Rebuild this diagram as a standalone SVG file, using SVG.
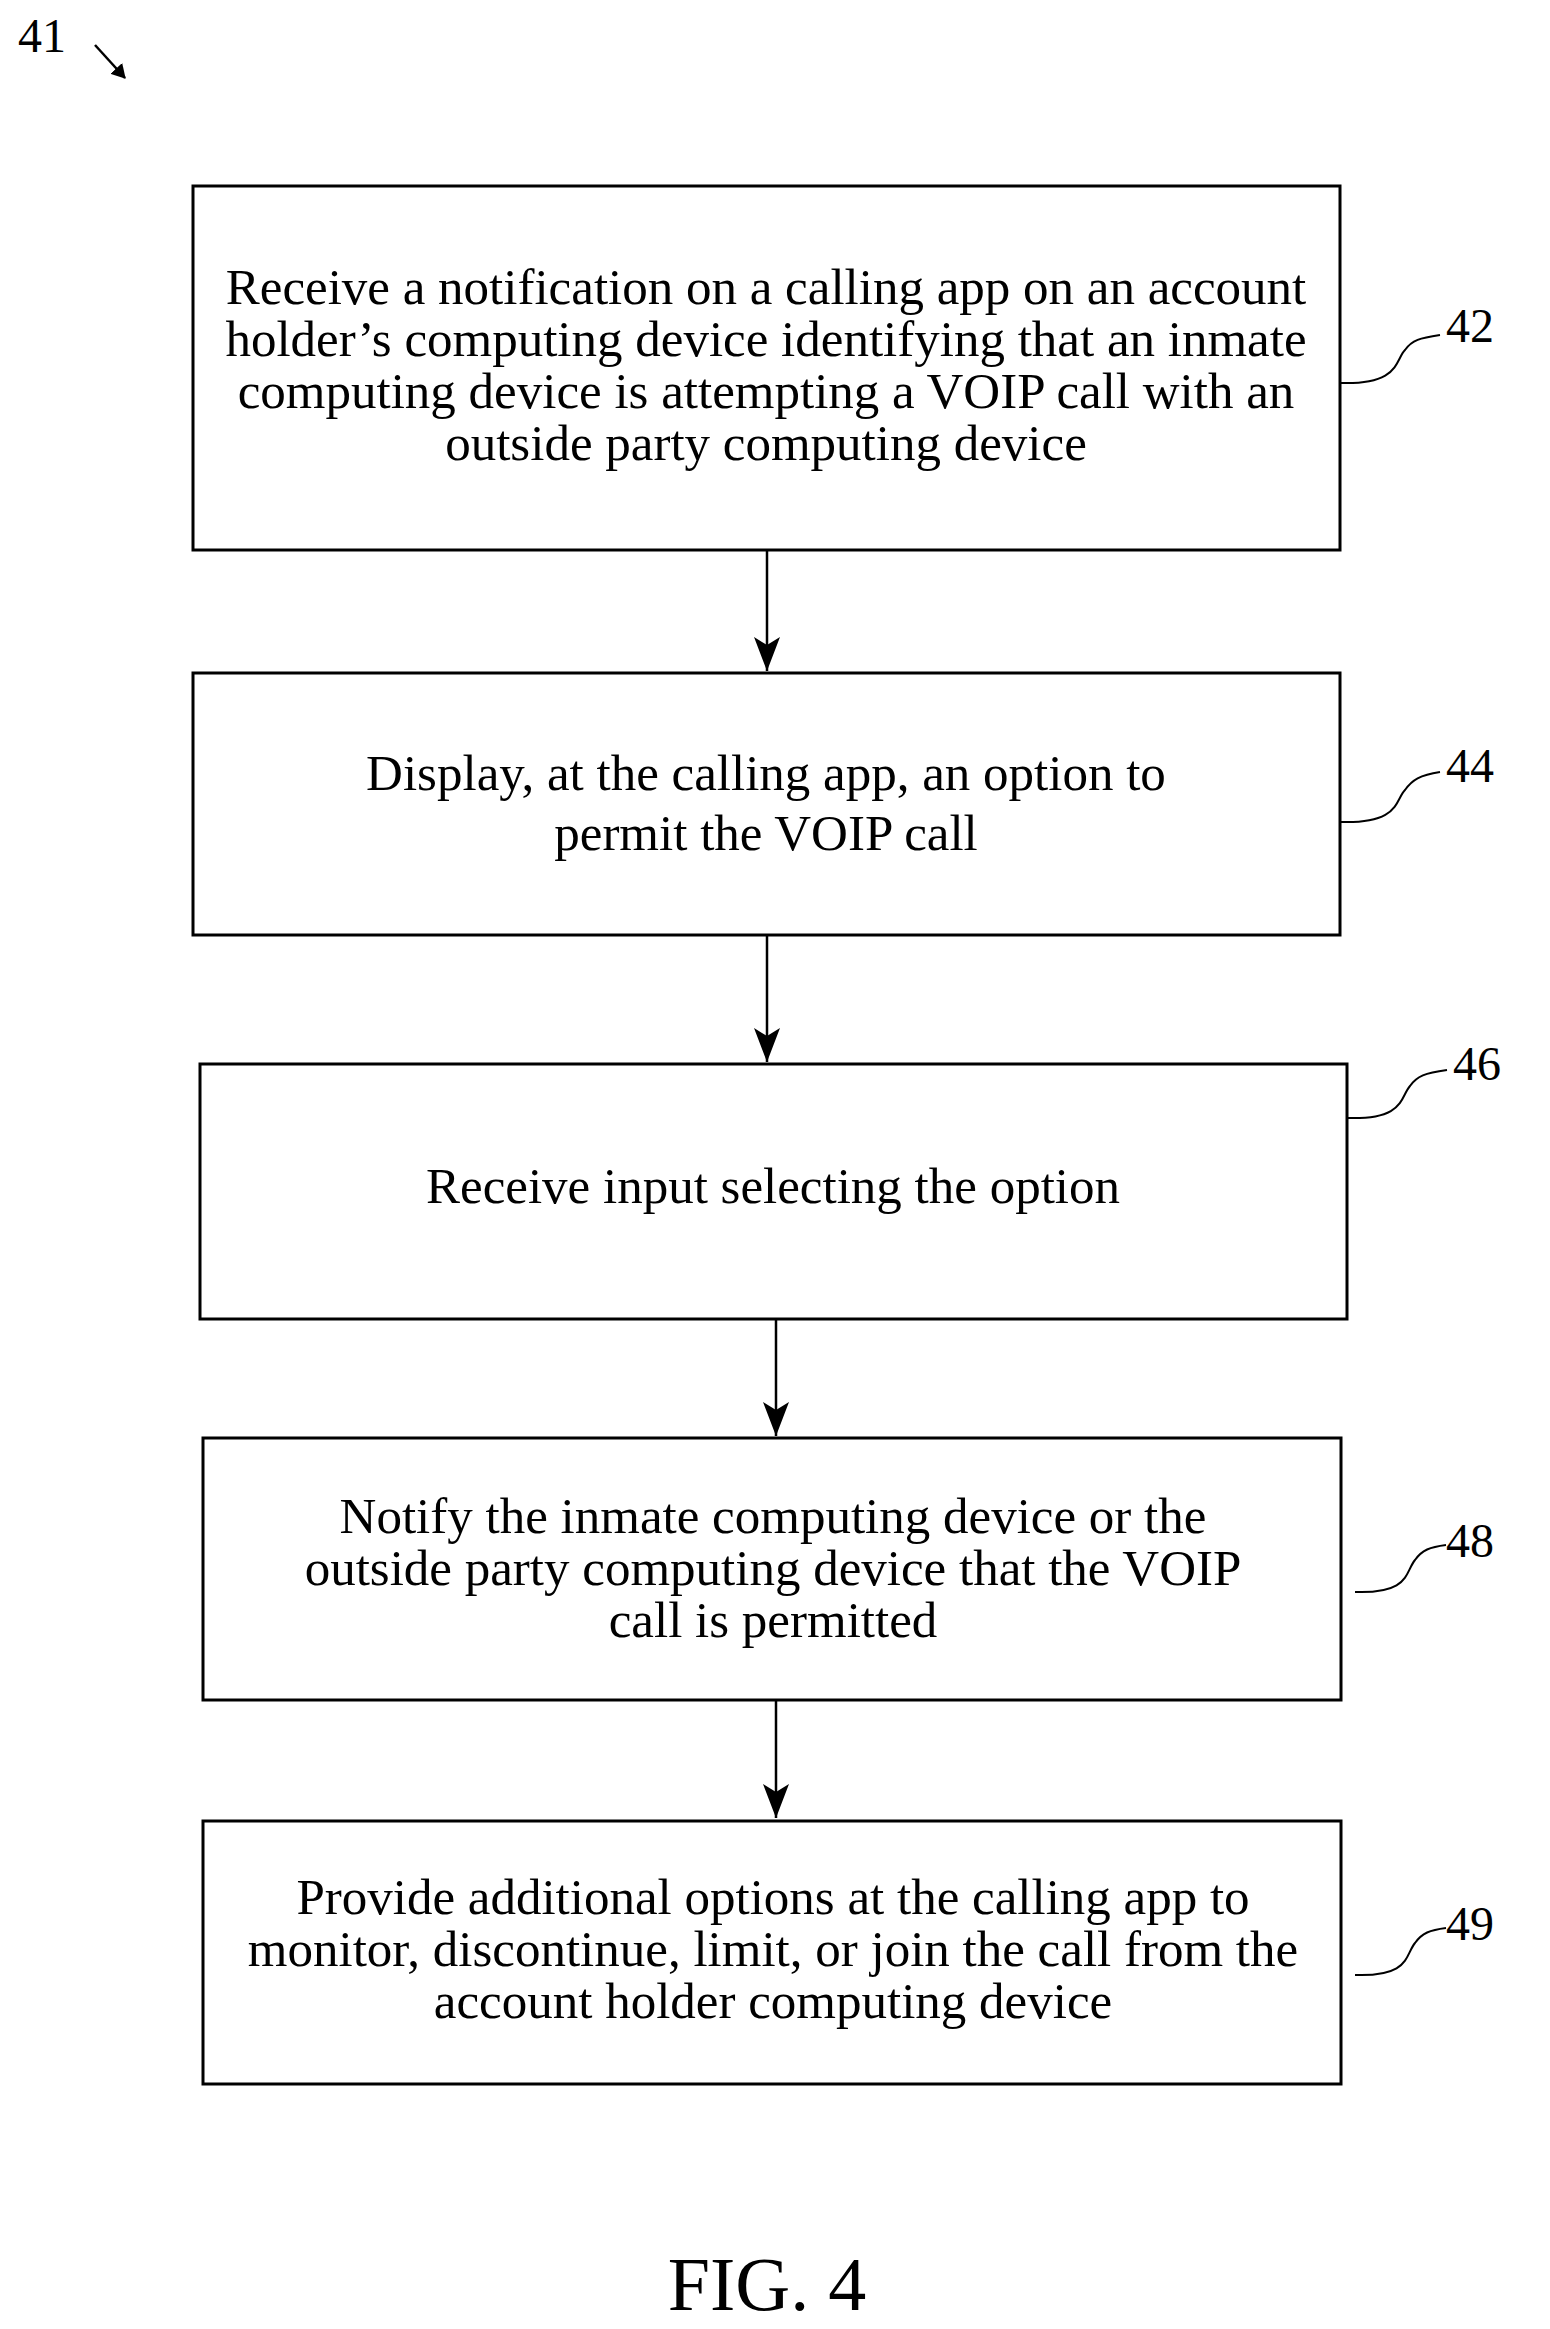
<svg xmlns="http://www.w3.org/2000/svg" width="1550" height="2329" viewBox="0 0 1550 2329">
<style>
.box{fill:#fff;stroke:#000;stroke-width:3}
.t{font-family:"Liberation Serif",serif;font-size:51px;text-anchor:middle;fill:#000}
.n{font-family:"Liberation Serif",serif;font-size:48px;fill:#000}
.c{stroke:#000;stroke-width:2.5;fill:none}
.l{stroke:#000;stroke-width:2;fill:none}
</style>
<defs><marker id="a" markerWidth="14" markerHeight="16" refX="13" refY="8" orient="auto" markerUnits="userSpaceOnUse"><path d="M0,0 L14,8 L0,16 Z" fill="#000"/></marker>
<marker id="b" markerWidth="36" markerHeight="26" refX="34" refY="13" orient="auto" markerUnits="userSpaceOnUse"><path d="M0,0 L34,13 L0,26 L8,13 Z" fill="#000"/></marker></defs>
<rect width="1550" height="2329" fill="#fff"/>
<text class="n" x="18" y="52">41</text>
<g id="connectors">
<line class="c" x1="95" y1="45" x2="125" y2="78" marker-end="url(#a)"/>
<line class="c" x1="767" y1="550" x2="767" y2="671" marker-end="url(#b)"/>
<line class="c" x1="767" y1="935" x2="767" y2="1062" marker-end="url(#b)"/>
<line class="c" x1="776" y1="1318" x2="776" y2="1436" marker-end="url(#b)"/>
<line class="c" x1="776" y1="1700" x2="776" y2="1818" marker-end="url(#b)"/>
</g>
<g id="n42"><rect class="box" x="193" y="186" width="1147" height="364"/>
<text class="t" x="766" y="304">Receive a notification on a calling app on an account</text>
<text class="t" x="766" y="356">holder’s computing device identifying that an inmate</text>
<text class="t" x="766" y="408">computing device is attempting a VOIP call with an</text>
<text class="t" x="766" y="460">outside party computing device</text>
<path class="l" d="M1340,383 C1400,385 1395,360 1405,350 C1412,340 1420,338 1440,335"/><text class="n" x="1446" y="342">42</text></g>
<g id="n44"><rect class="box" x="193" y="673" width="1147" height="262"/>
<text class="t" x="766" y="790">Display, at the calling app, an option to</text>
<text class="t" x="766" y="850">permit the VOIP call</text>
<path class="l" d="M1340,822 C1400,824 1395,800 1405,790 C1412,780 1420,775 1440,772"/><text class="n" x="1446" y="782">44</text></g>
<g id="n46"><rect class="box" x="200" y="1064" width="1147" height="255"/>
<text class="t" x="773" y="1203">Receive input selecting the option</text>
<path class="l" d="M1347,1118 C1405,1120 1400,1097 1410,1086 C1417,1076 1425,1073 1447,1070"/><text class="n" x="1453" y="1080">46</text></g>
<g id="n48"><rect class="box" x="203" y="1438" width="1138" height="262"/>
<text class="t" x="773" y="1533">Notify the inmate computing device or the</text>
<text class="t" x="773" y="1585">outside party computing device that the VOIP</text>
<text class="t" x="773" y="1637">call is permitted</text>
<path class="l" d="M1355,1592 C1410,1594 1405,1572 1415,1560 C1422,1550 1430,1547 1446,1545"/><text class="n" x="1446" y="1557">48</text></g>
<g id="n49"><rect class="box" x="203" y="1821" width="1138" height="263"/>
<text class="t" x="773" y="1914">Provide additional options at the calling app to</text>
<text class="t" x="773" y="1966">monitor, discontinue, limit, or join the call from the</text>
<text class="t" x="773" y="2018">account holder computing device</text>
<path class="l" d="M1355,1975 C1410,1977 1405,1955 1415,1943 C1422,1933 1430,1930 1446,1928"/><text class="n" x="1446" y="1940">49</text></g>
<text x="767" y="2310" style="font-family:'Liberation Serif',serif;font-size:76px;text-anchor:middle">FIG. 4</text>
</svg>
